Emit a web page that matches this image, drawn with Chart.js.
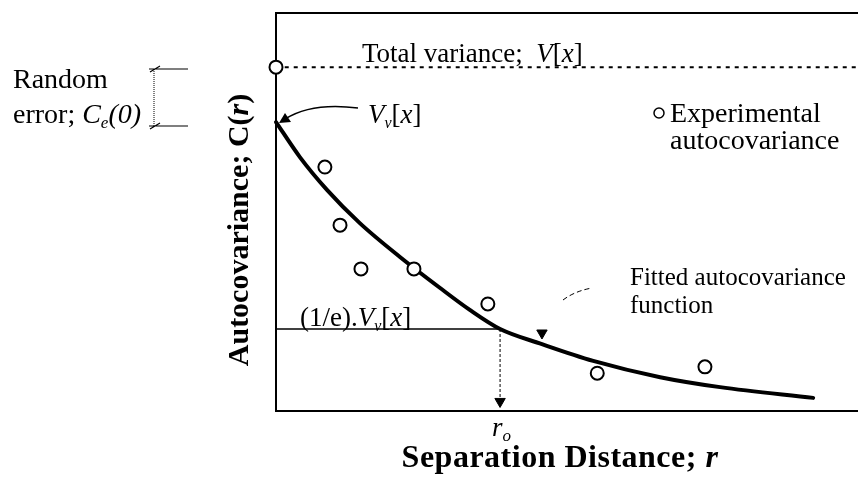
<!DOCTYPE html>
<html>
<head>
<meta charset="utf-8">
<script src="https://cdn.jsdelivr.net/npm/chart.js@4.4.0/dist/chart.umd.min.js"></script>
<style>
  html, body { margin: 0; padding: 0; background: #fff; }
</style>
</head>
<body>
<canvas id="acf" width="858" height="481"></canvas>
<script>
// separation distance r and autocovariance C(r) (arbitrary units)
const expR = [0.84, 1.10, 1.46, 2.37, 3.64, 5.52, 7.37];
const expC = [6.13, 4.67, 3.57, 3.57, 2.69, 0.95, 1.11];

const fitR = [0, 0.41, 0.88, 1.44, 2.13, 2.82, 3.33, 3.85, 4.57, 5.45, 6.60, 7.63, 9.23];
const fitC = [7.26, 6.38, 5.55, 4.72, 3.87, 3.09, 2.54, 2.06, 1.68, 1.26, 0.85, 0.60, 0.33];

const totalVariance = 8.64;   // V[x]
const dashedFrom = 0.15;
const eLevel = 2.06;          // (1/e).Vv[x]
const rO = 3.85;              // r_o
const arrowEnd = 0.24;
const markR = 4.57, markC = 1.96;

const SERIF = '"Liberation Serif", "Times New Roman", serif';
const xy = (xs, ys) => xs.map((x, i) => ({ x: x, y: ys[i] }));

// draw a row of text pieces with different fonts: [text, font, dy]
function drawRuns(ctx, x, y, parts, align) {
    let w = 0;
    parts.forEach(p => { ctx.font = p[1]; w += ctx.measureText(p[0]).width; });
    let cx = align === 'center' ? x - w / 2 : x;
    parts.forEach(p => {
        ctx.font = p[1];
        ctx.fillText(p[0], cx, y + (p[2] || 0));
        cx += ctx.measureText(p[0]).width;
    });
}

const annotations = {
    id: 'annotations',
    afterDraw(chart) {
        const ctx = chart.ctx;
        ctx.save();
        ctx.fillStyle = '#000';
        ctx.strokeStyle = '#000';
        ctx.textBaseline = 'alphabetic';

        const reg = '27px ' + SERIF, ita = 'italic 27px ' + SERIF, sub = 'italic 16px ' + SERIF;

        drawRuns(ctx, 362, 62, [['Total variance;  ', reg], ['V', ita], ['[', reg], ['x', ita], [']', reg]]);
        drawRuns(ctx, 368, 123, [['V', ita], ['v', sub, 5], ['[', reg], ['x', ita], [']', reg]]);
        drawRuns(ctx, 300, 326, [['(1/e).', reg], ['V', ita], ['v', sub, 5], ['[', reg], ['x', ita], [']', reg]]);

        const left = '28px ' + SERIF, leftI = 'italic 28px ' + SERIF;
        drawRuns(ctx, 13, 88, [['Random', left]]);
        drawRuns(ctx, 13, 123, [['error; ', left], ['C', leftI], ['e', 'italic 17px ' + SERIF, 5], ['(0)', leftI]]);
        const xo = chart.scales.x.getPixelForValue(rO);
        drawRuns(ctx, xo - 8, 436, [['r', 'italic 27px ' + SERIF], ['o', 'italic 17px ' + SERIF, 5]]);

        ctx.font = '25px ' + SERIF;
        ctx.fillText('Fitted autocovariance', 630, 285);
        ctx.fillText('function', 630, 313);

        ctx.font = '28px ' + SERIF;
        ctx.fillText('Experimental', 670, 122);
        ctx.fillText('autocovariance', 670, 149);
        ctx.lineWidth = 1.5;
        ctx.beginPath();
        ctx.arc(659, 113, 5, 0, Math.PI * 2);
        ctx.stroke();

        // axis titles
        ctx.letterSpacing = '0.5px';
        drawRuns(ctx, 560, 467, [['Separation Distance; ', 'bold 32px ' + SERIF], ['r', 'bold italic 32px ' + SERIF]], 'center');
        ctx.letterSpacing = '0px';
        ctx.save();
        ctx.translate(248, 230);
        ctx.rotate(-Math.PI / 2);
        drawRuns(ctx, 0, 0, [['Autocovariance; C(', 'bold 30px ' + SERIF], ['r', 'bold italic 30px ' + SERIF], [')', 'bold 30px ' + SERIF]], 'center');
        ctx.restore();

        // random error bracket
        ctx.lineWidth = 1.2;
        ctx.beginPath();
        ctx.moveTo(149, 69); ctx.lineTo(188, 69);
        ctx.moveTo(149, 126); ctx.lineTo(188, 126);
        ctx.moveTo(150, 72); ctx.lineTo(160, 66);
        ctx.moveTo(150, 129); ctx.lineTo(160, 123);
        ctx.stroke();
        ctx.lineWidth = 1;
        ctx.setLineDash([1, 1]);
        ctx.beginPath();
        ctx.moveTo(154, 69); ctx.lineTo(154, 126);
        ctx.stroke();

        // leader for fitted curve label
        ctx.setLineDash([5, 3]);
        ctx.beginPath();
        ctx.moveTo(563, 300);
        ctx.quadraticCurveTo(575, 291, 592, 288);
        ctx.stroke();
        ctx.setLineDash([]);

        // curved arrow to Vv[x]
        ctx.lineWidth = 1.5;
        ctx.beginPath();
        ctx.moveTo(358, 108);
        ctx.quadraticCurveTo(312, 102, 285, 119);
        ctx.stroke();
        ctx.beginPath();
        ctx.moveTo(279, 123);
        ctx.lineTo(285, 113);
        ctx.lineTo(291, 122);
        ctx.closePath();
        ctx.fill();
        ctx.restore();
    }
};

const base = { clip: false, showLine: true, borderColor: '#000', backgroundColor: '#000', pointRadius: 0 };

new Chart(document.getElementById('acf'), {
    type: 'scatter',
    data: {
        datasets: [
            Object.assign({}, base, { label: 'Experimental autocovariance', data: xy(expR, expC), showLine: false,
                pointRadius: 6.5, borderWidth: 2, backgroundColor: '#fff' }),
            Object.assign({}, base, { label: 'Total variance point', data: [{ x: 0, y: totalVariance }], showLine: false,
                pointRadius: 6.5, borderWidth: 2, backgroundColor: '#fff' }),
            Object.assign({}, base, { label: 'marker', data: [{ x: markR, y: markC }], showLine: false,
                pointStyle: 'triangle', rotation: 180, pointRadius: 6 }),
            Object.assign({}, base, { label: 'r_o', data: [{ x: rO, y: eLevel }, { x: rO, y: arrowEnd }],
                borderWidth: 1, borderDash: [3, 2], pointStyle: 'triangle', rotation: 180, pointRadius: [0, 6] }),
            Object.assign({}, base, { label: 'Fitted autocovariance function', data: xy(fitR, fitC),
                borderWidth: 4, cubicInterpolationMode: 'monotone', borderCapStyle: 'round' }),
            Object.assign({}, base, { label: 'Total variance', data: [{ x: dashedFrom, y: totalVariance }, { x: 10, y: totalVariance }],
                borderWidth: 2, borderDash: [4, 5] }),
            Object.assign({}, base, { label: '1/e level', data: [{ x: 0, y: eLevel }, { x: rO, y: eLevel }],
                borderWidth: 1.5 })
        ]
    },
    options: {
        responsive: false,
        animation: false,
        layout: { autoPadding: false, padding: { left: 276, top: 13, right: 0, bottom: 70 } },
        plugins: { legend: { display: false }, tooltip: { enabled: false } },
        scales: {
            x: { type: 'linear', min: 0, max: 10, ticks: { display: false },
                 grid: { display: false, drawTicks: false }, border: { display: true, color: '#000', width: 2 } },
            xTop: { type: 'linear', position: 'top', min: 0, max: 10, ticks: { display: false },
                 grid: { display: false, drawTicks: false }, border: { display: true, color: '#000', width: 2 } },
            y: { type: 'linear', min: 0, max: 10, ticks: { display: false },
                 grid: { display: false, drawTicks: false }, border: { display: true, color: '#000', width: 2 } }
        }
    },
    plugins: [annotations]
});
</script>
</body>
</html>
